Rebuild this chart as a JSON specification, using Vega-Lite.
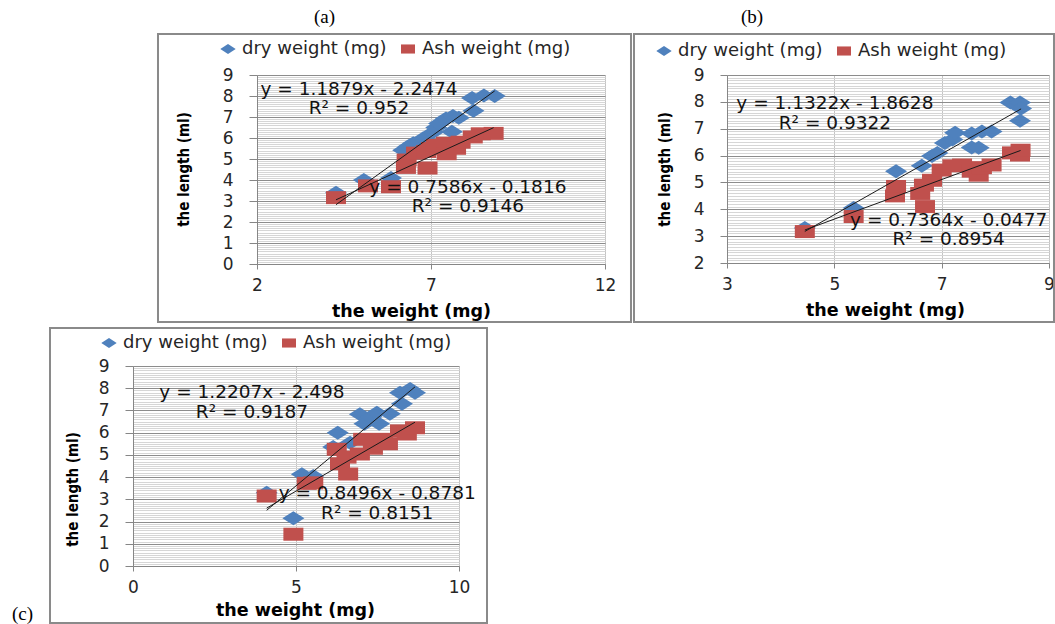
{
  "$schema": "https://vega.github.io/schema/vega-lite/v6.json",
  "background": "white",
  "padding": {"left": 12, "top": 7, "right": 0, "bottom": 0},
  "datasets": {
    "pts": [
      {"panel": "a", "series": "dry weight (mg)", "weight": 4.27, "length": 3.39},
      {"panel": "a", "series": "dry weight (mg)", "weight": 5.07, "length": 4.0},
      {"panel": "a", "series": "dry weight (mg)", "weight": 5.85, "length": 4.1},
      {"panel": "a", "series": "dry weight (mg)", "weight": 6.2, "length": 5.42},
      {"panel": "a", "series": "dry weight (mg)", "weight": 6.35, "length": 5.6},
      {"panel": "a", "series": "dry weight (mg)", "weight": 6.49, "length": 5.75},
      {"panel": "a", "series": "dry weight (mg)", "weight": 6.57, "length": 5.33},
      {"panel": "a", "series": "dry weight (mg)", "weight": 6.77, "length": 5.98},
      {"panel": "a", "series": "dry weight (mg)", "weight": 6.94, "length": 5.8},
      {"panel": "a", "series": "dry weight (mg)", "weight": 7.06, "length": 6.27},
      {"panel": "a", "series": "dry weight (mg)", "weight": 7.15, "length": 6.5},
      {"panel": "a", "series": "dry weight (mg)", "weight": 7.23, "length": 6.69},
      {"panel": "a", "series": "dry weight (mg)", "weight": 7.43, "length": 6.93},
      {"panel": "a", "series": "dry weight (mg)", "weight": 7.6, "length": 6.3},
      {"panel": "a", "series": "dry weight (mg)", "weight": 7.63, "length": 7.05},
      {"panel": "a", "series": "dry weight (mg)", "weight": 7.8, "length": 6.97},
      {"panel": "a", "series": "dry weight (mg)", "weight": 8.22, "length": 7.3},
      {"panel": "a", "series": "dry weight (mg)", "weight": 8.18, "length": 7.9},
      {"panel": "a", "series": "dry weight (mg)", "weight": 8.52, "length": 8.02},
      {"panel": "a", "series": "dry weight (mg)", "weight": 8.83, "length": 8.0},
      {"panel": "a", "series": "Ash weight (mg)", "weight": 4.27, "length": 3.16},
      {"panel": "a", "series": "Ash weight (mg)", "weight": 5.19, "length": 3.72},
      {"panel": "a", "series": "Ash weight (mg)", "weight": 5.85, "length": 3.68},
      {"panel": "a", "series": "Ash weight (mg)", "weight": 6.28, "length": 4.6},
      {"panel": "a", "series": "Ash weight (mg)", "weight": 6.3, "length": 4.95},
      {"panel": "a", "series": "Ash weight (mg)", "weight": 6.57, "length": 5.28},
      {"panel": "a", "series": "Ash weight (mg)", "weight": 6.9, "length": 4.57},
      {"panel": "a", "series": "Ash weight (mg)", "weight": 6.86, "length": 5.36},
      {"panel": "a", "series": "Ash weight (mg)", "weight": 7.0, "length": 5.5},
      {"panel": "a", "series": "Ash weight (mg)", "weight": 7.14, "length": 5.65},
      {"panel": "a", "series": "Ash weight (mg)", "weight": 7.43, "length": 5.75},
      {"panel": "a", "series": "Ash weight (mg)", "weight": 7.45, "length": 5.25},
      {"panel": "a", "series": "Ash weight (mg)", "weight": 7.72, "length": 5.51},
      {"panel": "a", "series": "Ash weight (mg)", "weight": 7.85, "length": 5.8},
      {"panel": "a", "series": "Ash weight (mg)", "weight": 8.2, "length": 6.05},
      {"panel": "a", "series": "Ash weight (mg)", "weight": 8.43, "length": 6.2},
      {"panel": "a", "series": "Ash weight (mg)", "weight": 8.8, "length": 6.22},
      {"panel": "b", "series": "dry weight (mg)", "weight": 4.45, "length": 3.3},
      {"panel": "b", "series": "dry weight (mg)", "weight": 5.36, "length": 4.05},
      {"panel": "b", "series": "dry weight (mg)", "weight": 6.15, "length": 5.42},
      {"panel": "b", "series": "dry weight (mg)", "weight": 6.63, "length": 5.62},
      {"panel": "b", "series": "dry weight (mg)", "weight": 6.82, "length": 5.98},
      {"panel": "b", "series": "dry weight (mg)", "weight": 6.92, "length": 6.1},
      {"panel": "b", "series": "dry weight (mg)", "weight": 7.06, "length": 6.47},
      {"panel": "b", "series": "dry weight (mg)", "weight": 7.2, "length": 6.6},
      {"panel": "b", "series": "dry weight (mg)", "weight": 7.25, "length": 6.85},
      {"panel": "b", "series": "dry weight (mg)", "weight": 7.56, "length": 6.82},
      {"panel": "b", "series": "dry weight (mg)", "weight": 7.56, "length": 6.3},
      {"panel": "b", "series": "dry weight (mg)", "weight": 7.69, "length": 6.29},
      {"panel": "b", "series": "dry weight (mg)", "weight": 7.75, "length": 6.9},
      {"panel": "b", "series": "dry weight (mg)", "weight": 7.93, "length": 6.9},
      {"panel": "b", "series": "dry weight (mg)", "weight": 8.28, "length": 7.98},
      {"panel": "b", "series": "dry weight (mg)", "weight": 8.46, "length": 7.98},
      {"panel": "b", "series": "dry weight (mg)", "weight": 8.48, "length": 7.75},
      {"panel": "b", "series": "dry weight (mg)", "weight": 8.46, "length": 7.3},
      {"panel": "b", "series": "Ash weight (mg)", "weight": 4.45, "length": 3.17},
      {"panel": "b", "series": "Ash weight (mg)", "weight": 5.36, "length": 3.73},
      {"panel": "b", "series": "Ash weight (mg)", "weight": 6.13, "length": 4.5},
      {"panel": "b", "series": "Ash weight (mg)", "weight": 6.15, "length": 4.85},
      {"panel": "b", "series": "Ash weight (mg)", "weight": 6.6, "length": 4.59},
      {"panel": "b", "series": "Ash weight (mg)", "weight": 6.69, "length": 4.1},
      {"panel": "b", "series": "Ash weight (mg)", "weight": 6.67, "length": 4.9},
      {"panel": "b", "series": "Ash weight (mg)", "weight": 6.82, "length": 5.08},
      {"panel": "b", "series": "Ash weight (mg)", "weight": 7.0, "length": 5.46},
      {"panel": "b", "series": "Ash weight (mg)", "weight": 7.2, "length": 5.62},
      {"panel": "b", "series": "Ash weight (mg)", "weight": 7.38, "length": 5.65},
      {"panel": "b", "series": "Ash weight (mg)", "weight": 7.56, "length": 5.42},
      {"panel": "b", "series": "Ash weight (mg)", "weight": 7.69, "length": 5.27},
      {"panel": "b", "series": "Ash weight (mg)", "weight": 7.75, "length": 5.55},
      {"panel": "b", "series": "Ash weight (mg)", "weight": 7.93, "length": 5.65},
      {"panel": "b", "series": "Ash weight (mg)", "weight": 8.31, "length": 6.1},
      {"panel": "b", "series": "Ash weight (mg)", "weight": 8.46, "length": 6.02},
      {"panel": "b", "series": "Ash weight (mg)", "weight": 8.47, "length": 6.2},
      {"panel": "c", "series": "dry weight (mg)", "weight": 4.1, "length": 3.3},
      {"panel": "c", "series": "dry weight (mg)", "weight": 4.92, "length": 2.15},
      {"panel": "c", "series": "dry weight (mg)", "weight": 5.18, "length": 4.13},
      {"panel": "c", "series": "dry weight (mg)", "weight": 5.53, "length": 4.05},
      {"panel": "c", "series": "dry weight (mg)", "weight": 6.14, "length": 5.35},
      {"panel": "c", "series": "dry weight (mg)", "weight": 6.28, "length": 6.0},
      {"panel": "c", "series": "dry weight (mg)", "weight": 6.66, "length": 5.55},
      {"panel": "c", "series": "dry weight (mg)", "weight": 6.96, "length": 6.83},
      {"panel": "c", "series": "dry weight (mg)", "weight": 7.1, "length": 6.4},
      {"panel": "c", "series": "dry weight (mg)", "weight": 7.3, "length": 6.7},
      {"panel": "c", "series": "dry weight (mg)", "weight": 7.48, "length": 6.9},
      {"panel": "c", "series": "dry weight (mg)", "weight": 7.55, "length": 6.4},
      {"panel": "c", "series": "dry weight (mg)", "weight": 7.88, "length": 6.85},
      {"panel": "c", "series": "dry weight (mg)", "weight": 8.19, "length": 7.8},
      {"panel": "c", "series": "dry weight (mg)", "weight": 8.25, "length": 7.3},
      {"panel": "c", "series": "dry weight (mg)", "weight": 8.5, "length": 7.97},
      {"panel": "c", "series": "dry weight (mg)", "weight": 8.65, "length": 7.8},
      {"panel": "c", "series": "Ash weight (mg)", "weight": 4.1, "length": 3.15},
      {"panel": "c", "series": "Ash weight (mg)", "weight": 4.92, "length": 1.43},
      {"panel": "c", "series": "Ash weight (mg)", "weight": 5.33, "length": 3.72},
      {"panel": "c", "series": "Ash weight (mg)", "weight": 5.53, "length": 3.74},
      {"panel": "c", "series": "Ash weight (mg)", "weight": 6.25, "length": 5.25},
      {"panel": "c", "series": "Ash weight (mg)", "weight": 6.35, "length": 4.6},
      {"panel": "c", "series": "Ash weight (mg)", "weight": 6.6, "length": 4.14},
      {"panel": "c", "series": "Ash weight (mg)", "weight": 6.55, "length": 4.9},
      {"panel": "c", "series": "Ash weight (mg)", "weight": 6.96, "length": 5.04},
      {"panel": "c", "series": "Ash weight (mg)", "weight": 7.06, "length": 5.7},
      {"panel": "c", "series": "Ash weight (mg)", "weight": 7.36, "length": 5.3},
      {"panel": "c", "series": "Ash weight (mg)", "weight": 7.36, "length": 5.63},
      {"panel": "c", "series": "Ash weight (mg)", "weight": 7.67, "length": 5.7},
      {"panel": "c", "series": "Ash weight (mg)", "weight": 7.82, "length": 5.5},
      {"panel": "c", "series": "Ash weight (mg)", "weight": 8.19, "length": 6.08},
      {"panel": "c", "series": "Ash weight (mg)", "weight": 8.4, "length": 5.94},
      {"panel": "c", "series": "Ash weight (mg)", "weight": 8.65, "length": 6.22}
    ],
    "trend": [
      {"panel": "a", "series": "dry", "weight": 4.27, "length": 2.825},
      {"panel": "a", "series": "dry", "weight": 8.83, "length": 8.241},
      {"panel": "a", "series": "ash", "weight": 4.27, "length": 3.057},
      {"panel": "a", "series": "ash", "weight": 8.8, "length": 6.494},
      {"panel": "b", "series": "dry", "weight": 4.45, "length": 3.175},
      {"panel": "b", "series": "dry", "weight": 8.48, "length": 7.738},
      {"panel": "b", "series": "ash", "weight": 4.45, "length": 3.229},
      {"panel": "b", "series": "ash", "weight": 8.47, "length": 6.190},
      {"panel": "c", "series": "dry", "weight": 4.1, "length": 2.507},
      {"panel": "c", "series": "dry", "weight": 8.65, "length": 8.061},
      {"panel": "c", "series": "ash", "weight": 4.1, "length": 2.605},
      {"panel": "c", "series": "ash", "weight": 8.65, "length": 6.471}
    ],
    "eqs": [
      {"panel": "a", "weight": 4.93, "length": 8.34, "label": "y = 1.1879x - 2.2474"},
      {"panel": "a", "weight": 4.93, "length": 7.45, "label": "R² = 0.952"},
      {"panel": "a", "weight": 8.06, "length": 3.69, "label": "y = 0.7586x - 0.1816"},
      {"panel": "a", "weight": 8.06, "length": 2.75, "label": "R² = 0.9146"},
      {"panel": "b", "weight": 5.01, "length": 7.95, "label": "y = 1.1322x - 1.8628"},
      {"panel": "b", "weight": 5.01, "length": 7.2, "label": "R² = 0.9322"},
      {"panel": "b", "weight": 7.13, "length": 3.59, "label": "y = 0.7364x - 0.0477"},
      {"panel": "b", "weight": 7.13, "length": 2.9, "label": "R² = 0.8954"},
      {"panel": "c", "weight": 3.65, "length": 7.84, "label": "y = 1.2207x - 2.498"},
      {"panel": "c", "weight": 3.65, "length": 6.95, "label": "R² = 0.9187"},
      {"panel": "c", "weight": 7.49, "length": 3.27, "label": "y = 0.8496x - 0.8781"},
      {"panel": "c", "weight": 7.49, "length": 2.37, "label": "R² = 0.8151"}
    ]
  },
  "vconcat": [
    {
      "hconcat": [
        {
          "width": 23, "height": 10,
          "data": {"values": [{}]},
          "mark": {"type": "point", "opacity": 0},
          "encoding": {}
        },
        {
          "width": 348, "height": 189,
          "title": {"text": "(a)", "anchor": "start", "frame": "bounds", "dx": 157, "offset": 6},
          "layer": [
            {
              "data": {"name": "pts"},
              "transform": [{"filter": "datum.panel === 'a'"}],
              "mark": {"type": "point", "filled": true, "opacity": 1, "size": 400, "strokeWidth": 0},
              "encoding": {
                "x": {"field": "weight", "type": "quantitative", "scale": {"domain": [2, 12], "nice": false, "zero": false},
                  "axis": {"title": "the weight (mg)", "values": [2, 7, 12], "format": "d", "titleX": 154, "titleY": 47}},
                "y": {"field": "length", "type": "quantitative", "scale": {"domain": [0, 9], "nice": false, "zero": false},
                  "axis": {"title": "the length (ml)", "tickCount": 90,
                    "labelExpr": "datum.value % 1 === 0 ? format(datum.value, 'd') : ''",
                    "gridColor": {"condition": {"test": "datum.value % 1 === 0", "value": "#8c8c8c"}, "value": "#d6d6d6"},
                    "tickOpacity": {"condition": {"test": "datum.value % 1 === 0", "value": 1}, "value": 0},
                    "titleX": -74, "titleY": 94}},
                "color": {"field": "series", "type": "nominal",
                  "scale": {"domain": ["dry weight (mg)", "Ash weight (mg)"], "range": ["#4F81BD", "#C0504D"]},
                  "legend": {"title": null, "orient": "none", "legendX": -38, "legendY": -35, "direction": "horizontal", "columns": 2}},
                "shape": {"field": "series", "type": "nominal",
                  "scale": {"domain": ["dry weight (mg)", "Ash weight (mg)"], "range": ["M-1.1,0L0,-0.7L1.1,0L0,0.7Z", "M-1,-0.65L1,-0.65L1,0.65L-1,0.65Z"]},
                  "legend": {"title": null, "orient": "none", "legendX": -38, "legendY": -35, "direction": "horizontal", "columns": 2}}
              }
            },
            {
              "data": {"name": "trend"},
              "transform": [{"filter": "datum.panel === 'a'"}],
              "mark": {"type": "line", "color": "#1a1a1a", "strokeWidth": 1},
              "encoding": {
                "x": {"field": "weight", "type": "quantitative"},
                "y": {"field": "length", "type": "quantitative"},
                "detail": {"field": "series"}
              }
            },
            {
              "data": {"name": "eqs"},
              "transform": [{"filter": "datum.panel === 'a'"}],
              "mark": {"type": "text", "font": "DejaVu Sans", "fontSize": 18.5, "align": "center", "baseline": "middle", "color": "#111111"},
              "encoding": {
                "x": {"field": "weight", "type": "quantitative"},
                "y": {"field": "length", "type": "quantitative"},
                "text": {"field": "label"}
              }
            },
            {
              "data": {"values": [{}]},
              "mark": {"type": "rect", "filled": false, "stroke": "#8a8a8a", "strokeWidth": 2},
              "encoding": {
                "x": {"datum": -0.845, "type": "quantitative"},
                "x2": {"datum": 12.747},
                "y": {"datum": 10.952, "type": "quantitative"},
                "y2": {"datum": -2.762}
              }
            }
          ]
        },
        {
          "width": 322, "height": 188,
          "title": {"text": "(b)", "anchor": "start", "frame": "bounds", "dx": 108, "offset": 6},
          "layer": [
            {
              "data": {"name": "pts"},
              "transform": [{"filter": "datum.panel === 'b'"}],
              "mark": {"type": "point", "filled": true, "opacity": 1, "size": 400, "strokeWidth": 0},
              "encoding": {
                "x": {"field": "weight", "type": "quantitative", "scale": {"domain": [3, 9], "nice": false, "zero": false},
                  "axis": {"title": "the weight (mg)", "values": [3, 5, 7, 9], "format": "d", "titleX": 158, "titleY": 47}},
                "y": {"field": "length", "type": "quantitative", "scale": {"domain": [2, 9], "nice": false, "zero": false},
                  "axis": {"title": "the length (ml)", "tickCount": 70,
                    "labelExpr": "datum.value % 1 === 0 ? format(datum.value, 'd') : ''",
                    "gridColor": {"condition": {"test": "datum.value % 1 === 0", "value": "#8c8c8c"}, "value": "#d6d6d6"},
                    "tickOpacity": {"condition": {"test": "datum.value % 1 === 0", "value": 1}, "value": 0},
                    "tickSize": 7,
                    "titleX": -63, "titleY": 94}},
                "color": {"field": "series", "type": "nominal",
                  "scale": {"domain": ["dry weight (mg)", "Ash weight (mg)"], "range": ["#4F81BD", "#C0504D"]},
                  "legend": {"title": null, "orient": "none", "legendX": -72, "legendY": -33, "direction": "horizontal", "columns": 2}},
                "shape": {"field": "series", "type": "nominal",
                  "scale": {"domain": ["dry weight (mg)", "Ash weight (mg)"], "range": ["M-1.1,0L0,-0.7L1.1,0L0,0.7Z", "M-1,-0.65L1,-0.65L1,0.65L-1,0.65Z"]},
                  "legend": {"title": null, "orient": "none", "legendX": -72, "legendY": -33, "direction": "horizontal", "columns": 2}}
              }
            },
            {
              "data": {"name": "trend"},
              "transform": [{"filter": "datum.panel === 'b'"}],
              "mark": {"type": "line", "color": "#1a1a1a", "strokeWidth": 1},
              "encoding": {
                "x": {"field": "weight", "type": "quantitative"},
                "y": {"field": "length", "type": "quantitative"},
                "detail": {"field": "series"}
              }
            },
            {
              "data": {"name": "eqs"},
              "transform": [{"filter": "datum.panel === 'b'"}],
              "mark": {"type": "text", "font": "DejaVu Sans", "fontSize": 18.5, "align": "center", "baseline": "middle", "color": "#111111"},
              "encoding": {
                "x": {"field": "weight", "type": "quantitative"},
                "y": {"field": "length", "type": "quantitative"},
                "text": {"field": "label"}
              }
            },
            {
              "data": {"values": [{}]},
              "mark": {"type": "rect", "filled": false, "stroke": "#8a8a8a", "strokeWidth": 2},
              "encoding": {
                "x": {"datum": 1.267, "type": "quantitative"},
                "x2": {"datum": 9.093},
                "y": {"datum": 10.527, "type": "quantitative"},
                "y2": {"datum": -0.197}
              }
            }
          ]
        }
      ],
      "spacing": 0,
      "resolve": {"scale": {"color": "independent", "shape": "independent"}}
    },
    {
      "width": 326, "height": 200,
      "title": {"text": "(c)", "orient": "bottom", "anchor": "start", "frame": "bounds", "dx": -37, "offset": -19},
      "layer": [
        {
          "data": {"name": "pts"},
          "transform": [{"filter": "datum.panel === 'c'"}],
          "mark": {"type": "point", "filled": true, "opacity": 1, "size": 400, "strokeWidth": 0},
          "encoding": {
            "x": {"field": "weight", "type": "quantitative", "scale": {"domain": [0, 10], "nice": false, "zero": false},
              "axis": {"title": "the weight (mg)", "values": [0, 5, 10], "format": "d", "titleX": 162, "titleY": 44}},
            "y": {"field": "length", "type": "quantitative", "scale": {"domain": [0, 9], "nice": false, "zero": false},
              "axis": {"title": "the length (ml)", "tickCount": 90,
                "labelExpr": "datum.value % 1 === 0 ? format(datum.value, 'd') : ''",
                "gridColor": {"condition": {"test": "datum.value % 1 === 0", "value": "#8c8c8c"}, "value": "#d6d6d6"},
                "tickOpacity": {"condition": {"test": "datum.value % 1 === 0", "value": 1}, "value": 0},
                "titleX": -61, "titleY": 123}},
            "color": {"field": "series", "type": "nominal",
              "scale": {"domain": ["dry weight (mg)", "Ash weight (mg)"], "range": ["#4F81BD", "#C0504D"]},
              "legend": {"title": null, "orient": "none", "legendX": -33, "legendY": -32, "direction": "horizontal", "columns": 2}},
            "shape": {"field": "series", "type": "nominal",
              "scale": {"domain": ["dry weight (mg)", "Ash weight (mg)"], "range": ["M-1.1,0L0,-0.7L1.1,0L0,0.7Z", "M-1,-0.65L1,-0.65L1,0.65L-1,0.65Z"]},
              "legend": {"title": null, "orient": "none", "legendX": -33, "legendY": -32, "direction": "horizontal", "columns": 2}}
          }
        },
        {
          "data": {"name": "trend"},
          "transform": [{"filter": "datum.panel === 'c'"}],
          "mark": {"type": "line", "color": "#1a1a1a", "strokeWidth": 1},
          "encoding": {
            "x": {"field": "weight", "type": "quantitative"},
            "y": {"field": "length", "type": "quantitative"},
            "detail": {"field": "series"}
          }
        },
        {
          "data": {"name": "eqs"},
          "transform": [{"filter": "datum.panel === 'c'"}],
          "mark": {"type": "text", "font": "DejaVu Sans", "fontSize": 18.5, "align": "center", "baseline": "middle", "color": "#111111"},
          "encoding": {
            "x": {"field": "weight", "type": "quantitative"},
            "y": {"field": "length", "type": "quantitative"},
            "text": {"field": "label"}
          }
        },
        {
          "data": {"values": [{}]},
          "mark": {"type": "rect", "filled": false, "stroke": "#8a8a8a", "strokeWidth": 2},
          "encoding": {
            "x": {"datum": -2.546, "type": "quantitative"},
            "x2": {"datum": 10.859},
            "y": {"datum": 10.71, "type": "quantitative"},
            "y2": {"datum": -2.565}
          }
        }
      ]
    }
  ],
  "spacing": 2,
  "resolve": {"scale": {"color": "independent", "shape": "independent"}},
  "config": {
    "view": {"stroke": null},
    "title": {"font": "Liberation Serif", "fontSize": 19, "fontWeight": "normal", "color": "#000000"},
    "axis": {
      "labelFont": "DejaVu Sans", "labelFontSize": 17, "labelColor": "#262626",
      "titleFont": "DejaVu Sans", "titleFontWeight": "bold", "titleColor": "#000000",
      "titleBaseline": "middle",
      "domainColor": "#868686", "tickColor": "#868686", "domainWidth": 1, "tickWidth": 1,
      "grid": true, "gridWidth": 1, "labelFlush": false, "labelOverlap": false
    },
    "axisX": {"tickSize": 5, "labelPadding": 8, "gridColor": "#c4c4c4", "titleFontSize": 17.5},
    "axisY": {"tickSize": 8, "labelPadding": 16, "titleFont": "DejaVu Sans Condensed", "titleFontSize": 15},
    "legend": {
      "labelFont": "DejaVu Sans", "labelFontSize": 18, "labelColor": "#262626",
      "symbolSize": 196, "symbolStrokeWidth": 0, "labelOffset": 5, "columnPadding": 12, "labelLimit": 300
    }
  }
}
